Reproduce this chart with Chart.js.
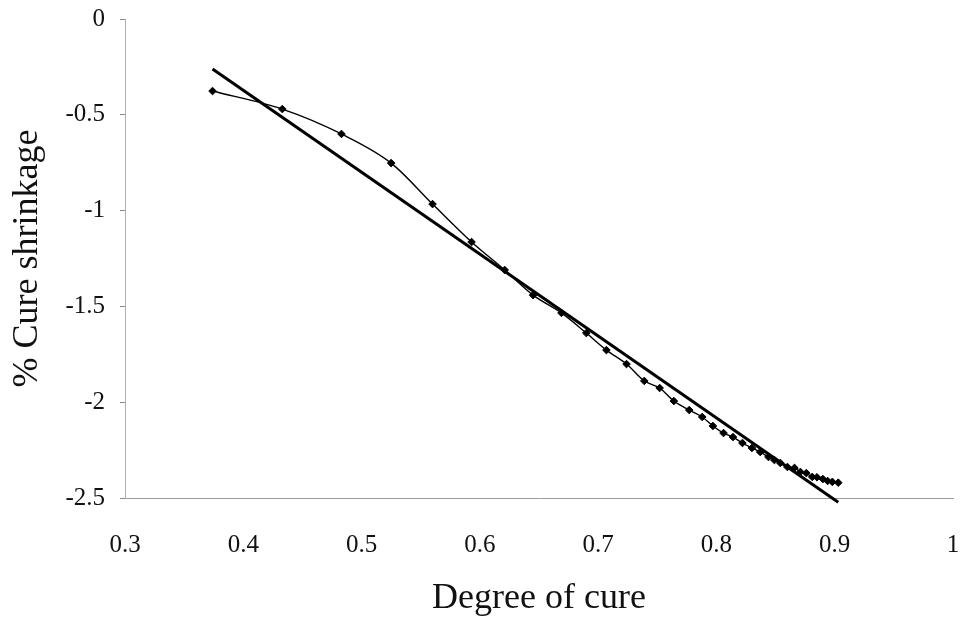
<!DOCTYPE html>
<html>
<head>
<meta charset="utf-8">
<script src="https://cdn.jsdelivr.net/npm/chart.js@4/dist/chart.umd.min.js"></script>
<style>
  html, body { margin: 0; padding: 0; background: #ffffff; }
  #wrap { width: 964px; height: 628px; }
</style>
</head>
<body>
<div id="wrap"><canvas id="c" width="964" height="628"></canvas></div>
<script>
// Measured cure shrinkage (%) against degree of cure
const cureDegree = [
  0.374, 0.433, 0.483, 0.525, 0.560, 0.593, 0.621, 0.645, 0.669, 0.690,
  0.707, 0.724, 0.739, 0.752, 0.764, 0.777, 0.788, 0.797, 0.806, 0.814,
  0.822, 0.830, 0.837, 0.844, 0.849, 0.854, 0.860, 0.866, 0.871, 0.876,
  0.881, 0.885, 0.890, 0.894, 0.898, 0.903
];
const shrinkage = [
  -0.376, -0.470, -0.600, -0.752, -0.966, -1.164, -1.310, -1.441, -1.534, -1.639,
  -1.728, -1.801, -1.889, -1.926, -1.994, -2.041, -2.077, -2.124, -2.161, -2.182,
  -2.213, -2.239, -2.260, -2.286, -2.302, -2.317, -2.338, -2.343, -2.364, -2.370,
  -2.390, -2.392, -2.401, -2.411, -2.416, -2.420
];

// Linear trend line end points
const trendX = [0.374, 0.903];
const trendY = [-0.261, -2.522];

// Axis ticks
const xTickValues = [0.3, 0.4, 0.5, 0.6, 0.7, 0.8, 0.9, 1.0];
const xTickLabels = ['0.3', '0.4', '0.5', '0.6', '0.7', '0.8', '0.9', '1'];
const yTickValues = [0, -0.5, -1, -1.5, -2, -2.5];
const yTickLabels = ['0', '-0.5', '-1', '-1.5', '-2', '-2.5'];

const serif = "'Liberation Serif', 'Times New Roman', 'DejaVu Serif', serif";

const measured = cureDegree.map((x, i) => ({ x: x, y: shrinkage[i] }));
const trend = trendX.map((x, i) => ({ x: x, y: trendY[i] }));

new Chart(document.getElementById('c'), {
  type: 'scatter',
  data: {
    datasets: [
      {
        label: 'Linear fit',
        data: trend,
        showLine: true,
        borderColor: '#000000',
        borderWidth: 3,
        pointRadius: 0,
        tension: 0,
        clip: false,
        order: 2
      },
      {
        label: 'Cure shrinkage',
        data: measured,
        showLine: true,
        borderColor: '#000000',
        borderWidth: 1.4,
        pointStyle: 'rectRot',
        pointRadius: 3.8,
        pointBackgroundColor: '#000000',
        pointBorderColor: '#000000',
        pointBorderWidth: 1,
        cubicInterpolationMode: 'monotone',
        clip: false,
        order: 1
      }
    ]
  },
  options: {
    responsive: false,
    animation: false,
    layout: { padding: { left: 0, right: 11, top: 19, bottom: 0 } },
    plugins: {
      legend: { display: false },
      tooltip: { enabled: false }
    },
    scales: {
      x: {
        type: 'linear',
        min: 0.3,
        max: 1.0,
        afterBuildTicks: (scale) => { scale.ticks = xTickValues.map(v => ({ value: v })); },
        afterFit: (scale) => {
          scale.height = 130;
          scale.paddingLeft = 0;
          scale.paddingRight = 0;
        },
        ticks: {
          autoSkip: false,
          maxRotation: 0,
          padding: 32,
          color: '#111111',
          font: { family: serif, size: 25 },
          callback: (v, i) => xTickLabels[i]
        },
        grid: { display: false, drawTicks: false },
        border: { display: true, color: '#9a9a9a', width: 1, dash: [3, 2] },
        title: {
          display: true,
          text: 'Degree of cure',
          color: '#111111',
          font: { family: serif, size: 36 },
          padding: { top: 0, bottom: 8 }
        }
      },
      y: {
        type: 'linear',
        min: -2.5,
        max: 0,
        afterBuildTicks: (scale) => { scale.ticks = yTickValues.map(v => ({ value: v })); },
        afterFit: (scale) => {
          scale.width = 125;
          scale.paddingTop = 0;
          scale.paddingBottom = 0;
        },
        ticks: {
          padding: 15,
          color: '#111111',
          font: { family: serif, size: 25 },
          callback: (v, i) => yTickLabels[i]
        },
        grid: {
          drawOnChartArea: false,
          drawTicks: true,
          tickLength: 5,
          color: '#888888'
        },
        border: { display: true, color: '#b0b0b0', width: 1, dash: [2, 3] },
        title: {
          display: true,
          text: '% Cure shrinkage',
          color: '#111111',
          font: { family: serif, size: 36 },
          padding: { top: 6, bottom: 0 }
        }
      }
    }
  }
});
</script>
</body>
</html>
